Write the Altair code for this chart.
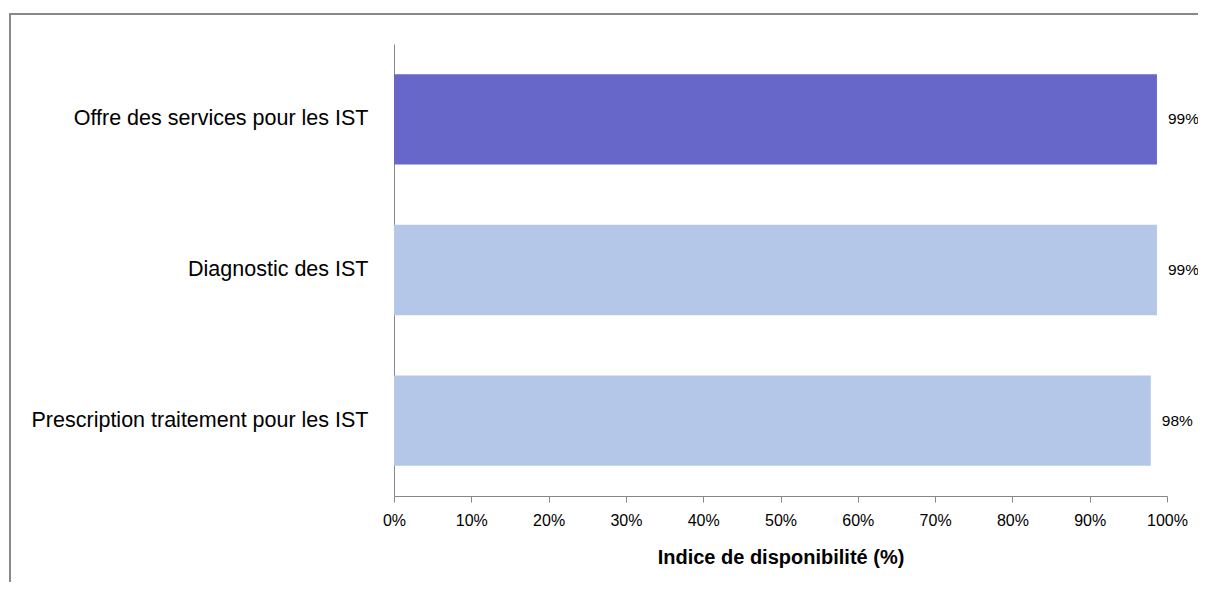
import altair as alt
import pandas as pd

categories = ["Offre des services pour les IST", "Diagnostic des IST", "Prescription traitement pour les IST"]
values = [98.7, 98.7, 97.9]
labels = ["99%", "99%", "98%"]
highlight = ["oui", "non", "non"]

df = pd.DataFrame({"cat": categories, "val": values, "lab": labels, "hl": highlight})

FONT = "Liberation Sans, Arial, sans-serif"

y_enc = alt.Y("cat:N", sort=categories, title=None,
              scale=alt.Scale(paddingInner=0.4, paddingOuter=0.2),
              axis=alt.Axis(ticks=False, domainColor="#888888", labelFontSize=21.5,
                            labelColor="#000000", labelPadding=26, labelFont=FONT,
                            labelLimit=400))

bars = alt.Chart(df).mark_bar().encode(
    x=alt.X("val:Q", scale=alt.Scale(domain=[0, 100]),
            title="Indice de disponibilité (%)",
            axis=alt.Axis(values=list(range(0, 101, 10)), labelExpr="datum.value + '%'",
                          labelFlush=False,
                          grid=False, domainColor="#888888", tickColor="#888888",
                          tickSize=6, labelFontSize=16, labelColor="#000000",
                          labelFont=FONT, labelPadding=10,
                          titleFont=FONT, titleFontSize=20, titleFontWeight="bold",
                          titleColor="#000000", titlePadding=19)),
    y=y_enc,
    color=alt.Color("hl:N", scale=alt.Scale(domain=["oui", "non"], range=["#6667C9", "#B4C7E9"]),
                    legend=None),
)

text = alt.Chart(df).mark_text(align="left", dx=11, fontSize=15.5, font=FONT, color="#000000").encode(
    x="val:Q", y=alt.Y("cat:N", sort=categories), text="lab:N"
)

frame = alt.Chart(df).mark_rect(fill=None, stroke="#888888", strokeWidth=1.5).encode(
    x=alt.value(-384), x2=alt.value(1000), y=alt.value(-30), y2=alt.value(800)
)

chart = alt.layer(frame, bars, text).properties(
    width=773, height=452,
    autosize=alt.AutoSizeParams(type="none"),
    padding={"left": 386, "top": 36, "right": 31, "bottom": 86},
).configure_view(stroke=None)

chart.save("out.html", embed_options={"renderer": "svg", "actions": False})
